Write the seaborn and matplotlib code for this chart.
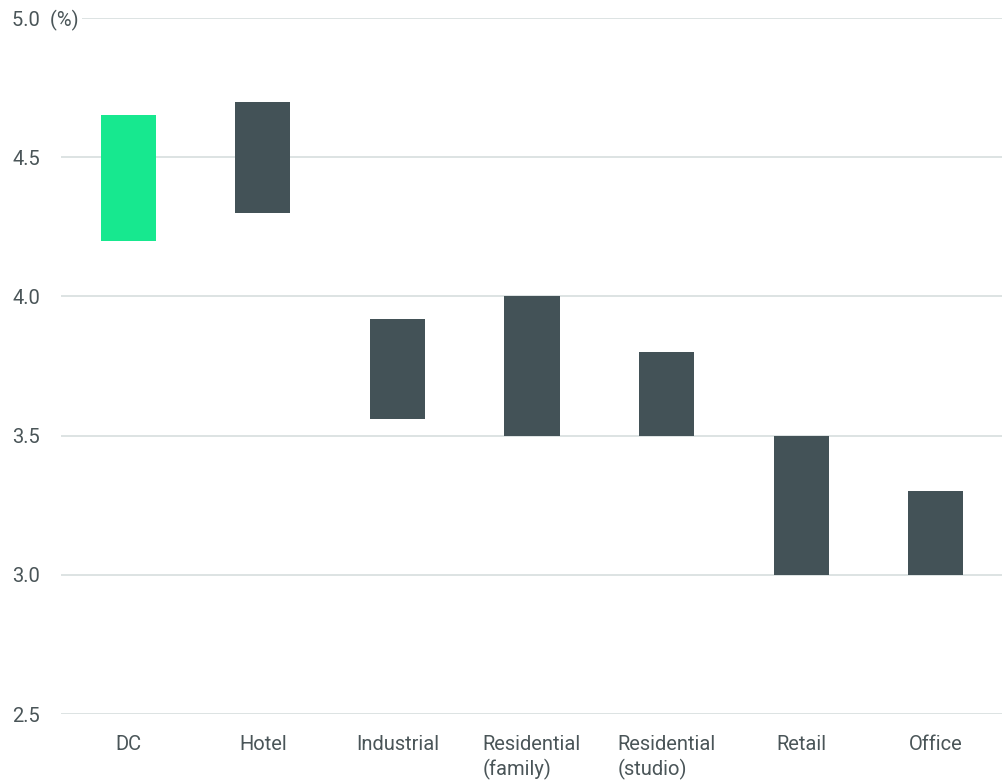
import matplotlib
matplotlib.use("Agg")
import matplotlib.pyplot as plt
import seaborn as sns
import pandas as pd
import numpy as np

# Yield ranges by sector (%)
categories = ["DC", "Hotel", "Industrial", "Residential\n(family)",
              "Residential\n(studio)", "Retail", "Office"]
low = [4.20, 4.30, 3.56, 3.50, 3.50, 3.00, 3.00]
high = [4.65, 4.70, 3.92, 4.00, 3.80, 3.50, 3.30]
yticks = [2.5, 3.0, 3.5, 4.0, 4.5, 5.0]
ytick_labels = ["2.5", "3.0", "3.5", "4.0", "4.5", "5.0  (%)"]

GREEN = "#17e88f"
DARK = "#435257"
GRID = "#dae0e0"
TEXT = "#4a5558"

sns.set_theme(style="white")
plt.rcParams["font.family"] = ["Roboto", "DejaVu Sans"]

df = pd.DataFrame({
    "sector": categories,
    "low": low,
    "span": np.array(high) - np.array(low),
})

fig = plt.figure(figsize=(10.03, 7.8), dpi=100)
ax = fig.add_axes([61 / 1003, 1 - 714 / 780, 1 - 61 / 1003, (714 - 18) / 780])

sns.barplot(data=df, x="sector", y="span", bottom=df["low"].values,
            color=DARK, saturation=1, width=0.41, ax=ax, zorder=3)
ax.patches[0].set_facecolor(GREEN)
for p in ax.patches:
    p.set_edgecolor("none")

ax.set_ylim(2.5, 5.0)
ax.set_xlim(-0.5, 6.5)
ax.set_yticks(yticks)
ax.set_yticklabels(ytick_labels)
ax.yaxis.grid(True, color=GRID, linewidth=1.3, zorder=0)
ax.set_axisbelow(True)
for s in ax.spines.values():
    s.set_visible(False)
ax.set_xlabel("")
ax.set_ylabel("")

ax.tick_params(axis="y", length=0, pad=35, labelsize=14.5, labelcolor=TEXT)
for lab in ax.get_yticklabels():
    lab.set_horizontalalignment("left")
    lab.set_verticalalignment("center_baseline")
    lab.set_bbox(dict(facecolor="white", edgecolor="none", pad=2.5))

ax.tick_params(axis="x", length=0, pad=15, labelsize=14.5, labelcolor=TEXT)
for lab in ax.get_xticklabels():
    lab.set_multialignment("left")
    lab.set_linespacing(1.3)

fig.savefig("out.png", dpi=100, facecolor="white")
